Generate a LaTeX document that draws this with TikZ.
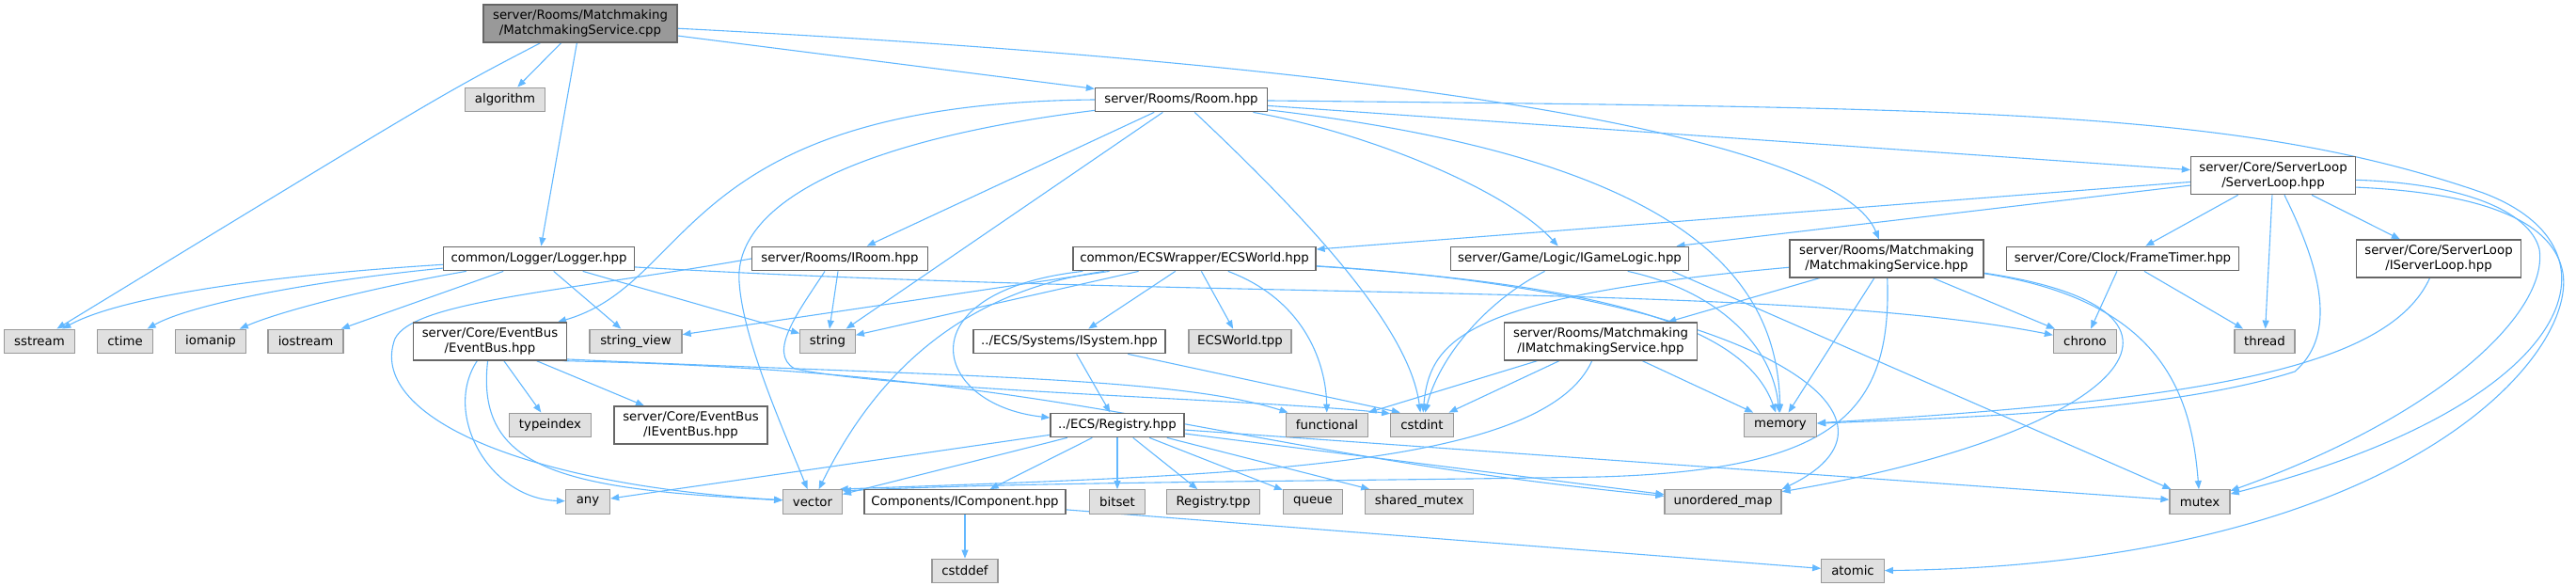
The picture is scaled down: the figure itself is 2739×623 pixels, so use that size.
\documentclass[tikz,border=0pt]{standalone}
\usepackage{fontspec}
\newfontfamily\dv{DejaVu Sans}
\usetikzlibrary{arrows.meta}
\definecolor{eblue}{HTML}{63B8FF}
\definecolor{gborder}{HTML}{666666}
\definecolor{sborder}{HTML}{999999}
\definecolor{sfill}{HTML}{E0E0E0}
\definecolor{mfill}{HTML}{999999}
\pgfdeclarelayer{bg}
\pgfsetlayers{bg,main}
\tikzset{
  base/.style={rectangle, inner sep=0pt, minimum height=25.5pt, align=center,
    font={\dv\fontsize{13.3}{15.5}\selectfont}, line width=1.3pt},
  file/.style={base, draw=gborder, fill=white},
  sys/.style={base, draw=sborder, fill=sfill},
  mainnode/.style={base, draw=gborder, fill=mfill},
  two/.style={minimum height=40pt},
  edge/.style={draw=eblue, line width=1.1pt, -{Triangle[length=9pt,width=7pt]}}
}
\begin{document}
\begin{tikzpicture}[x=1pt,y=1pt]
\useasboundingbox (0,0) rectangle (2739,-623);
% row 0
\node[mainnode,two,minimum width=206pt] (main) at (617,-25) {server/Rooms/Matchmaking\\/MatchmakingService.cpp};
% row 1
\node[sys,minimum width=85pt] (algorithm) at (537,-106) {algorithm};
\node[file,minimum width=183pt] (Room) at (1256,-106) {server/Rooms/Room.hpp};
\node[file,two,minimum width=175pt] (ServerLoop) at (2417,-186.7) {server/Core/ServerLoop\\/ServerLoop.hpp};
% row 2
\node[file,minimum width=203pt] (Logger) at (573,-275) {common/Logger/Logger.hpp};
\node[file,minimum width=187pt] (IRoom) at (893,-275) {server/Rooms/IRoom.hpp};
\node[file,minimum width=258pt] (ECSWorld) at (1270,-275) {common/ECSWrapper/ECSWorld.hpp};
\node[file,minimum width=253pt] (IGameLogic) at (1669,-275) {server/Game/Logic/IGameLogic.hpp};
\node[file,two,minimum width=206pt] (MMS) at (2006,-275) {server/Rooms/Matchmaking\\/MatchmakingService.hpp};
\node[file,minimum width=247pt] (FrameTimer) at (2257,-275) {server/Core/Clock/FrameTimer.hpp};
\node[file,two,minimum width=175pt] (IServerLoop) at (2593,-275) {server/Core/ServerLoop\\/IServerLoop.hpp};
% row 3
\node[sys,minimum width=75pt] (sstream) at (42,-363) {sstream};
\node[sys,minimum width=59pt] (ctime) at (133,-363) {ctime};
\node[sys,minimum width=75pt] (iomanip) at (224,-363) {iomanip};
\node[sys,minimum width=80pt] (iostream) at (325,-363) {iostream};
\node[file,two,minimum width=163pt] (EventBus) at (521,-363) {server/Core/EventBus\\/EventBus.hpp};
\node[sys,minimum width=98pt] (sview) at (676,-363) {string\_view};
\node[sys,minimum width=58.5pt] (string) at (880,-363) {string};
\node[file,minimum width=204pt] (ISystem) at (1137,-363) {../ECS/Systems/ISystem.hpp};
\node[sys,minimum width=109pt] (ECStpp) at (1318.5,-363) {ECSWorld.tpp};
\node[file,two,minimum width=205pt] (IMMS) at (1702,-363) {server/Rooms/Matchmaking\\/IMatchmakingService.hpp};
\node[sys,minimum width=67pt] (chrono) at (2217,-363) {chrono};
\node[sys,minimum width=64pt] (thread) at (2408,-363) {thread};
% row 4
\node[sys,minimum width=87pt] (typeindex) at (585,-452) {typeindex};
\node[file,two,minimum width=163pt] (IEventBus) at (734.5,-452) {server/Core/EventBus\\/IEventBus.hpp};
\node[file,minimum width=142pt] (Registry) at (1188,-452) {../ECS/Registry.hpp};
\node[sys,minimum width=87pt] (functional) at (1411,-452) {functional};
\node[sys,minimum width=66.5pt] (cstdint) at (1512,-452) {cstdint};
\node[sys,minimum width=77pt] (memory) at (1893,-452) {memory};
% row 5
\node[sys,minimum width=47pt] (any) at (625,-533.5) {any};
\node[sys,minimum width=62.5pt] (vector) at (864,-533.5) {vector};
\node[file,minimum width=214pt] (IComponent) at (1026,-533.5) {Components/IComponent.hpp};
\node[sys,minimum width=58.5pt] (bitset) at (1188,-533.5) {bitset};
\node[sys,minimum width=99pt] (Regtpp) at (1290,-533.5) {Registry.tpp};
\node[sys,minimum width=63pt] (queue) at (1396,-533.5) {queue};
\node[sys,minimum width=115pt] (smutex) at (1509,-533.5) {shared\_mutex};
\node[sys,minimum width=124pt] (umap) at (1832,-533.5) {unordered\_map};
\node[sys,minimum width=64pt] (mutex) at (2339,-533.5) {mutex};
% row 6
\node[sys,minimum width=70pt] (cstddef) at (1026,-607) {cstddef};
\node[sys,minimum width=66.5pt] (atomic) at (1970,-607) {atomic};

\begin{pgfonlayer}{bg}
% main
\draw[edge] (main.-154) .. controls (470,-100) .. (sstream.36);
\draw[edge] (main) -- (algorithm);
\draw[edge] (main) -- (Logger);
\draw[edge] (main) -- (Room);
\draw[edge] (main) .. controls (1600,-75) and (1960,-160) .. (MMS);
% Logger
\draw[edge] (Logger) .. controls (250,-295) and (120,-320) .. (sstream);
\draw[edge] (Logger) .. controls (320,-300) and (200,-325) .. (ctime);
\draw[edge] (Logger) .. controls (400,-305) and (300,-330) .. (iomanip);
\draw[edge] (Logger) -- (iostream);
\draw[edge] (Logger) -- (sview);
\draw[edge] (Logger) -- (string);
\draw[edge] (Logger.-5) .. controls (1300,-320) and (1900,-300) .. (chrono);
% Room
\draw[edge] (Room.west) .. controls (720,-110) and (740,-300) .. (EventBus.16);
\draw[edge] (Room) -- (IRoom);
\draw[edge] (Room) .. controls (900,-150) and (780,-220) .. (786,-300) .. controls (790,-360) and (830,-450) .. (vector);
\draw[edge] (Room) -- (string);
\draw[edge] (Room) .. controls (1420,-260) and (1500,-360) .. (cstdint);
\draw[edge] (Room) .. controls (1450,-140) and (1600,-200) .. (IGameLogic);
\draw[edge] (Room) .. controls (1800,-170) and (1890,-300) .. (memory);
\draw[edge] (Room) -- (ServerLoop);
\draw[edge] (Room) .. controls (2100,-115) and (2380,-115) .. (2640,-205) .. controls (2800,-265) and (2740,-430) .. (mutex);
% IRoom
\draw[edge] (IRoom) -- (string);
\draw[edge] (IRoom.west) .. controls (600,-310) and (440,-320) .. (420,-360) .. controls (390,-440) and (550,-515) .. (vector);
\draw[edge] (IRoom.-140) .. controls (850,-330) and (815,-375) .. (845,-392) .. controls (950,-415) and (1350,-425) .. (cstdint.160);
% EventBus
\draw[edge] (EventBus) -- (typeindex);
\draw[edge] (EventBus) -- (IEventBus);
\draw[edge] (EventBus) .. controls (470,-440) and (520,-530) .. (any);
\draw[edge] (EventBus) .. controls (505,-500) and (600,-520) .. (vector);
\draw[edge] (EventBus.-13) .. controls (1000,-400) and (1250,-400) .. (functional);
\draw[edge] (EventBus.-15) .. controls (1150,-395) and (1290,-480) .. (umap);
% ISystem
\draw[edge] (ISystem) -- (Registry);
\draw[edge] (ISystem) -- (cstdint.150);
% ECSWorld
\draw[edge] (ECSWorld) -- (ISystem);
\draw[edge] (ECSWorld) -- (ECStpp);
\draw[edge] (ECSWorld) -- (string);
\draw[edge] (ECSWorld) -- (sview);
\draw[edge] (ECSWorld) .. controls (1020,-310) and (930,-400) .. (vector);
\draw[edge] (ECSWorld) .. controls (960,-310) and (990,-430) .. (Registry);
\draw[edge] (ECSWorld) .. controls (1390,-320) and (1410,-390) .. (functional);
\draw[edge] (ECSWorld) .. controls (1750,-305) and (1860,-360) .. (memory);
\draw[edge] (ECSWorld) .. controls (1850,-310) and (2060,-440) .. (umap.north east);
% Registry
\draw[edge] (Registry) -- (any);
\draw[edge] (Registry) -- (vector);
\draw[edge] (Registry) -- (IComponent);
\draw[edge] (Registry) -- (bitset);
\draw[edge] (Registry) -- (Regtpp);
\draw[edge] (Registry) -- (queue);
\draw[edge] (Registry) -- (smutex);
\draw[edge] (Registry) -- (umap);
\draw[edge] (Registry) -- (mutex);
% IComponent
\draw[edge] (IComponent) -- (cstddef);
\draw[edge] (IComponent) -- (atomic);
% IGameLogic
\draw[edge] (IGameLogic) .. controls (1580,-320) and (1530,-380) .. (cstdint);
\draw[edge] (IGameLogic) .. controls (1830,-310) and (1885,-370) .. (memory);
\draw[edge] (IGameLogic.-7) -- (mutex);
% MatchmakingService.hpp
\draw[edge] (MMS) -- (IMMS);
\draw[edge] (MMS) -- (chrono);
\draw[edge] (MMS) -- (memory);
\draw[edge] (MMS) .. controls (1560,-315) and (1520,-360) .. (cstdint);
\draw[edge] (MMS.-88) .. controls (2012,-440) and (1950,-500) .. (1700,-507) .. controls (1400,-512) and (1100,-512) .. (vector.20);
\draw[edge] (MMS) .. controls (2300,-320) and (2330,-420) .. (mutex);
\draw[edge] (MMS) .. controls (2380,-330) and (2260,-460) .. (umap);
% IMatchmakingService
\draw[edge] (IMMS) -- (functional);
\draw[edge] (IMMS) -- (cstdint);
\draw[edge] (IMMS) -- (memory);
\draw[edge] (IMMS) .. controls (1640,-500) and (1300,-505) .. (vector.25);
% ServerLoop
\draw[edge] (ServerLoop) -- (ECSWorld);
\draw[edge] (ServerLoop) -- (IGameLogic);
\draw[edge] (ServerLoop) -- (FrameTimer);
\draw[edge] (ServerLoop) -- (thread);
\draw[edge] (ServerLoop) -- (IServerLoop);
\draw[edge] (ServerLoop.-60) .. controls (2475,-300) and (2480,-360) .. (2440,-395) .. controls (2300,-440) and (2050,-445) .. (memory);
\draw[edge] (ServerLoop.-3) .. controls (2620,-195) and (2690,-225) .. (2700,-265) .. controls (2710,-330) and (2600,-440) .. (mutex);
\draw[edge] (ServerLoop.-8) .. controls (2640,-205) and (2715,-235) .. (2725,-290) .. controls (2740,-380) and (2550,-600) .. (atomic);
% FrameTimer
\draw[edge] (FrameTimer) -- (chrono);
\draw[edge] (FrameTimer) -- (thread);
% IServerLoop
\draw[edge] (IServerLoop) .. controls (2540,-390) and (2350,-425) .. (memory);
\end{pgfonlayer}
\end{tikzpicture}
\end{document}
